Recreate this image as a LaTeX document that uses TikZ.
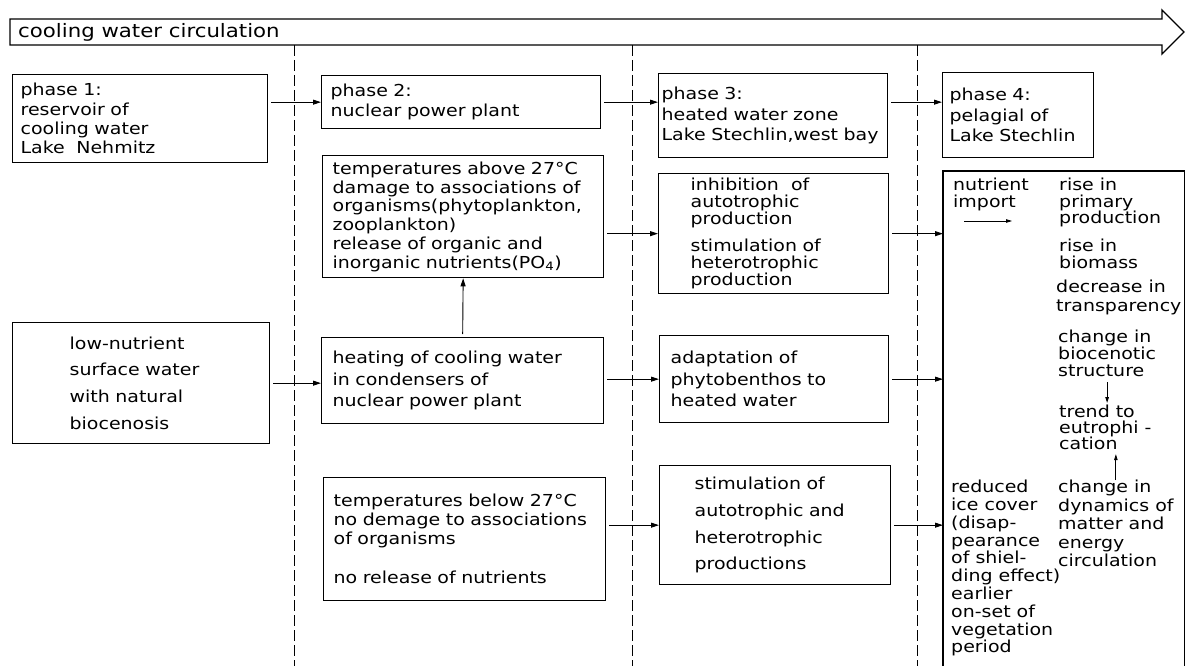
\documentclass[tikz,border=0pt]{standalone}
\usepackage{fontspec}
\setmainfont{DejaVu Sans}[FakeStretch=1.15]
\usetikzlibrary{arrows.meta}
\lineskiplimit=-20pt

\begin{document}
\begin{tikzpicture}[x=1pt,y=-1pt,
	box/.style={draw, line width=1.3pt, anchor=north west, inner sep=0pt, align=left,
		font=\fontsize{16.5}{#1}\selectfont},
	note/.style={anchor=north west, inner sep=0pt, align=left,
		font=\fontsize{16.5}{#1}\selectfont},
	arr/.style={line width=0.9pt, -{Triangle[length=8pt,width=5pt]}, shorten <=3pt},
	sarr/.style={line width=0.8pt, -{Triangle[length=6pt,width=3.5pt]}},
	phasesep/.style={line width=1pt, dash pattern=on 11pt off 4pt}]
	\useasboundingbox (0,0) rectangle (1186,666);
	% circulation arrow
	\draw [line width=1.3pt] (10,19) -- (1162,19) -- (1162,10) -- (1184,32) -- (1162,54) -- (1162,45) -- (10,45) -- cycle;
	\node [anchor=west, inner sep=0pt, font=\fontsize{18.5}{20}\selectfont] (circ) at (18,32) {cooling water circulation};
	% phase borders
	\draw [phasesep] (294,45) -- (294,666);
	\draw [phasesep] (632,45) -- (632,666);
	\draw [phasesep] (917,45) -- (917,666);
	% phases
	\node [box=19.3, minimum width=255pt, minimum height=88pt, text width=239pt] (phaseone) at (12,74)
		{phase 1:\\reservoir of\\cooling water\\Lake\hspace{0.7em}Nehmitz};
	\node [box=20, minimum width=279pt, minimum height=53pt, text width=261pt] (phasetwo) at (321,75)
		{phase 2:\\nuclear power plant};
	\node [box=20.5, minimum width=229pt, minimum height=84pt, text width=223pt] (phasethree) at (658,73)
		{phase 3:\\heated water zone\\Lake Stechlin,west bay};
	\node [box=20.5, minimum width=151pt, minimum height=85pt, text width=137pt] (phasefour) at (942,72)
		{phase 4:\\pelagial of\\Lake Stechlin};
	% phase 2 and 3
	\node [box=18.8, minimum width=281pt, minimum height=122pt, text width=261pt] (above) at (322,155)
		{temperatures above 27°C\\damage to associations of\\organisms(phytoplankton,\\zooplankton)\\release of organic and\\inorganic nutrients(PO\textsubscript{4})};
	\node [box=17, minimum width=230pt, minimum height=120pt, text width=166pt] (inhib) at (658,173)
		{inhibition\hspace{0.4em} of\\autotrophic\\production\\[10pt]stimulation of\\heterotrophic\\production};
	\node [box=26.7, minimum width=257pt, minimum height=121pt, text width=143pt] (lownut) at (12,322)
		{low-nutrient\\surface water\\with natural\\biocenosis};
	\node [box=21.5, minimum width=282pt, minimum height=86pt, text width=260pt] (heating) at (321,337)
		{heating of cooling water\\in condensers of\\nuclear power plant};
	\node [box=21.5, minimum width=229pt, minimum height=87pt, text width=207pt] (adapt) at (659,335)
		{adaptation of\\phytobenthos to\\heated water};
	\node [box=19, minimum width=282pt, minimum height=123pt, text width=262pt] (below) at (323,477)
		{temperatures below 27°C\\no demage to associations\\of organisms\\[20pt]no release of nutrients};
	\node [box=26.7, minimum width=231pt, minimum height=119pt, text width=161pt] (stim) at (659,465)
		{stimulation of\\autotrophic and\\heterotrophic\\productions};
	% phase 4
	\node [anchor=north west, inner sep=0pt, minimum width=241pt, minimum height=495pt] (pelagial) at (943,171) {};
	\draw [line width=1.3pt] (pelagial.south west) -- (pelagial.north west) -- (pelagial.north east) -- (pelagial.south east);
	\node [note=17] (import) at (953,178) {nutrient\\import};
	\node [note=16.5] (primary) at (1059,178) {rise in\\primary\\production};
	\node [note=16.5] (biomass) at (1059,239) {rise in\\biomass};
	\node [note=19] (transp) at (1056,280) {decrease in\\transparency};
	\node [note=17] (biocen) at (1058,330) {change in\\biocenotic\\structure};
	\node [note=16] (trend) at (1059,405) {trend to\\eutrophi -\\cation};
	\node [note=18.5] (dynamics) at (1058,480) {change in\\dynamics of\\matter and\\energy\\circulation};
	\node [note=17.8] (icecover) at (951,480) {reduced\\ice cover\\(disap-\\pearance\\of shiel-\\ding effect)\\earlier\\on-set of\\vegetation\\period};
	\coordinate (impstart) at (964,221);
	\coordinate (impend) at (1012,221);
	% connections
	\draw [arr] (phaseone.east |- phasetwo.west) -- (phasetwo.west);
	\draw [arr] (phasetwo.east) -- (phasethree.west |- phasetwo.east);
	\draw [arr] (phasethree.east |- phasetwo.east) -- (phasefour.west |- phasetwo.east);
	\draw [arr] (above.east |- inhib.west) -- (inhib.west);
	\draw [arr] (inhib.east) -- (pelagial.west |- inhib.east);
	\draw [arr] (lownut.east) -- (heating.west |- lownut.east);
	\draw [arr] (heating.east |- adapt.west) -- (adapt.west);
	\draw [arr] (adapt.east) -- (pelagial.west |- adapt.east);
	\draw [arr] (heating.north) -- (above.south);
	\draw [arr] (below.east |- stim.west) -- (stim.west);
	\draw [arr] (stim.east) -- (pelagial.west |- stim.east);
	\draw [sarr] (impstart) -- (impend);
	\draw [sarr, shorten <=5pt, shorten >=2pt] (biocen.south) -- (biocen.south |- trend.north);
	\draw [sarr, shorten >=4pt] (dynamics.north) -- (dynamics.north |- trend.south);
\end{tikzpicture}
\end{document}
